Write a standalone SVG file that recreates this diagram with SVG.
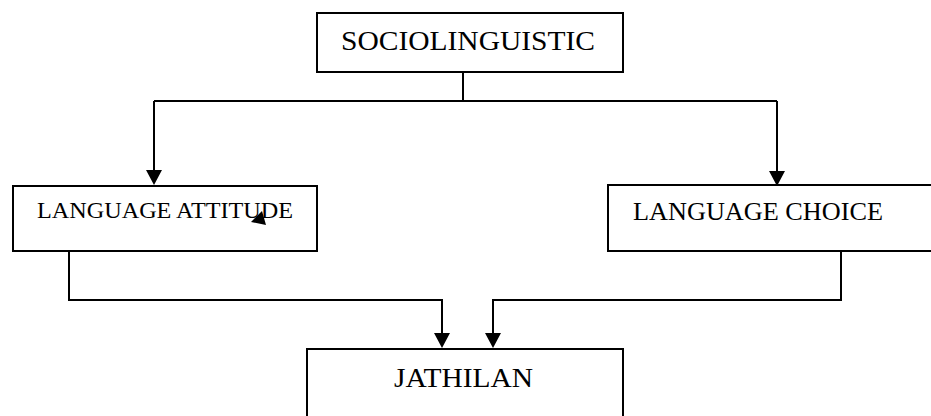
<svg xmlns="http://www.w3.org/2000/svg" width="931" height="416" viewBox="0 0 931 416">
<style>
.box{fill:#fff;stroke:#000;stroke-width:2}
.ln{fill:none;stroke:#000;stroke-width:2}
.t{font-family:"Liberation Serif","Times New Roman",serif;fill:#000}
</style>
<rect width="931" height="416" fill="#fff"/>
<g id="connectors">
<path class="ln" d="M463,72 V101 M154,101 H777"/>
<path class="ln" d="M154,101 V171"/>
<polygon points="146,170 162,170 154,185"/>
<path class="ln" d="M777,101 V171"/>
<polygon points="769,171 785,171 777,186"/>
<path class="ln" d="M69,251 V300 H442 V334"/>
<polygon points="434,333 450,333 442,348"/>
<path class="ln" d="M841,251 V300 H493 V334"/>
<polygon points="485,333 501,333 493,348"/>
</g>
<g id="sociolinguistic">
<rect class="box" x="317" y="13" width="306" height="59"/>
<text class="t" x="341" y="50" font-size="28" textLength="254" lengthAdjust="spacingAndGlyphs">SOCIOLINGUISTIC</text>
</g>
<g id="language-attitude">
<rect class="box" x="13" y="186" width="304" height="65"/>
<text class="t" x="37" y="218" font-size="23" textLength="256" lengthAdjust="spacingAndGlyphs">LANGUAGE ATTITUDE</text>
<polygon points="251,222 262,211 266,225"/>
</g>
<g id="language-choice">
<rect class="box" x="608" y="185" width="340" height="66"/>
<text class="t" x="633" y="220" font-size="25" textLength="250" lengthAdjust="spacingAndGlyphs">LANGUAGE CHOICE</text>
</g>
<g id="jathilan">
<rect class="box" x="307" y="349" width="316" height="80"/>
<text class="t" x="394" y="387" font-size="28" textLength="139" lengthAdjust="spacingAndGlyphs">JATHILAN</text>
</g>
</svg>
